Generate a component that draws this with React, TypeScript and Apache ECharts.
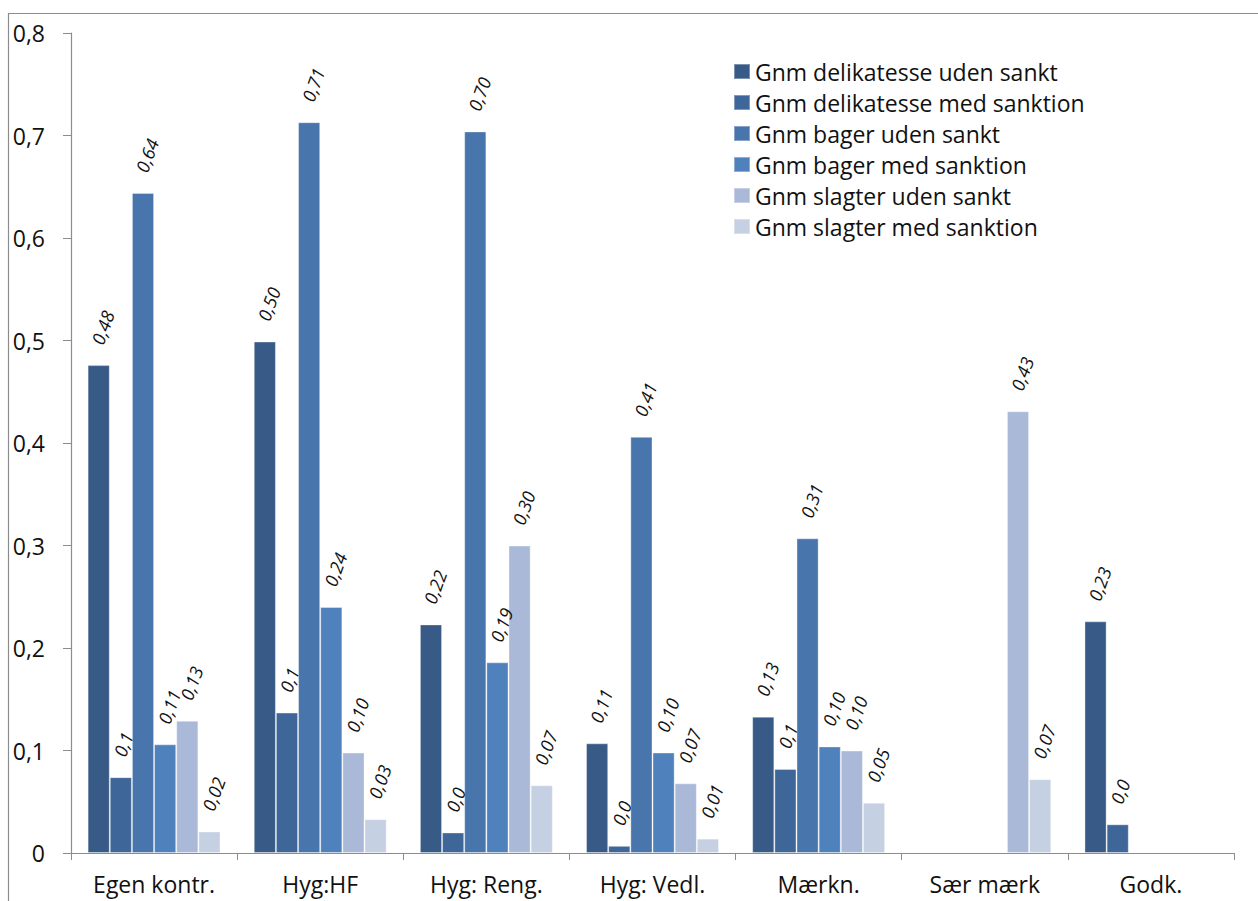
import React, { useEffect, useRef } from "react";
import * as echarts from "echarts";

const categories = ["Egen kontr.", "Hyg:HF", "Hyg: Reng.", "Hyg: Vedl.", "Mærkn.", "Sær mærk", "Godk."];
const seriesNames = [
  "Gnm delikatesse uden sankt",
  "Gnm delikatesse med sanktion",
  "Gnm bager uden sankt",
  "Gnm bager med sanktion",
  "Gnm slagter uden sankt",
  "Gnm slagter med sanktion",
];
const delikUden = [0.476, 0.499, 0.223, 0.107, 0.133, null, 0.226];
const delikMed = [0.074, 0.137, 0.02, 0.007, 0.082, null, 0.028];
const bagerUden = [0.644, 0.713, 0.704, 0.406, 0.307, null, null];
const bagerMed = [0.106, 0.24, 0.186, 0.098, 0.104, null, null];
const slagterUden = [0.129, 0.098, 0.3, 0.068, 0.1, 0.431, null];
const slagterMed = [0.021, 0.033, 0.066, 0.014, 0.049, 0.072, null];
const labelDecimals = [2, 1, 2, 2, 2, 2];
const colors = ["#375A86", "#3F6698", "#4876AC", "#4F81BD", "#AAB9D7", "#C5D0E3"];
const yTicks = { min: 0, max: 0.8, interval: 0.1 };

const FONT = "'Open Sans', 'Noto Sans', sans-serif";

export default function App() {
  const ref = useRef<HTMLDivElement>(null);
  useEffect(() => {
    document.body.style.margin = "0";
    if (!ref.current) return;
    const chart = echarts.init(ref.current, null, { renderer: "svg" });
    const data = [delikUden, delikMed, bagerUden, bagerMed, slagterUden, slagterMed];
    chart.setOption({
      animation: false,
      backgroundColor: "#fff",
      color: colors,
      textStyle: { fontFamily: FONT },
      graphic: [
        {
          type: "rect",
          shape: { x: 8.5, y: 13.5, width: 1400, height: 1000 },
          style: { fill: "none", stroke: "#8c8c8c", lineWidth: 1.2 },
          silent: true,
        },
      ],
      legend: {
        orient: "vertical",
        left: 733,
        top: 60,
        padding: 0,
        itemWidth: 16,
        itemHeight: 15,
        itemGap: 8,
        icon: "rect",
        textStyle: { fontSize: 23, lineHeight: 23, color: "#111", fontFamily: FONT },
        data: seriesNames,
      },
      grid: { left: 71, right: 24, top: 33, bottom: 48, containLabel: false },
      xAxis: {
        type: "category",
        data: categories,
        axisLine: { show: true, lineStyle: { color: "#8c8c8c", width: 1.2 } },
        axisTick: { show: true, alignWithLabel: false, length: 7, lineStyle: { color: "#8c8c8c" } },
        axisLabel: { fontSize: 23, color: "#111", margin: 19, fontFamily: FONT },
      },
      yAxis: {
        type: "value",
        min: yTicks.min,
        max: yTicks.max,
        interval: yTicks.interval,
        splitLine: { show: false },
        axisLine: { show: true, lineStyle: { color: "#8c8c8c", width: 1.2 } },
        axisTick: { show: true, length: 8, lineStyle: { color: "#8c8c8c" } },
        axisLabel: {
          fontSize: 23,
          color: "#111",
          margin: 26,
          fontFamily: FONT,
          formatter: (v: number) => (v === 0 ? "0" : v.toFixed(1).replace(".", ",")),
        },
      },
      series: seriesNames.map((name, i) => ({
        name,
        type: "bar",
        data: data[i],
        barGap: "0%",
        barCategoryGap: "20%",
        itemStyle: { color: colors[i], borderColor: "rgba(255,255,255,0.35)", borderWidth: 1 },
        label: {
          show: true,
          position: "top",
          distance: 26,
          offset: [-5, 0],
          rotate: 70,
          align: "left",
          verticalAlign: "middle",
          fontSize: 18,
          fontStyle: "italic",
          color: "#111",
          fontFamily: FONT,
          formatter: (p: any) =>
            p.value == null ? "" : Number(p.value).toFixed(labelDecimals[i]).replace(".", ","),
        },
      })),
    });
    return () => chart.dispose();
  }, []);
  return <div ref={ref} style={{ width: 1258, height: 901 }} />;
}
